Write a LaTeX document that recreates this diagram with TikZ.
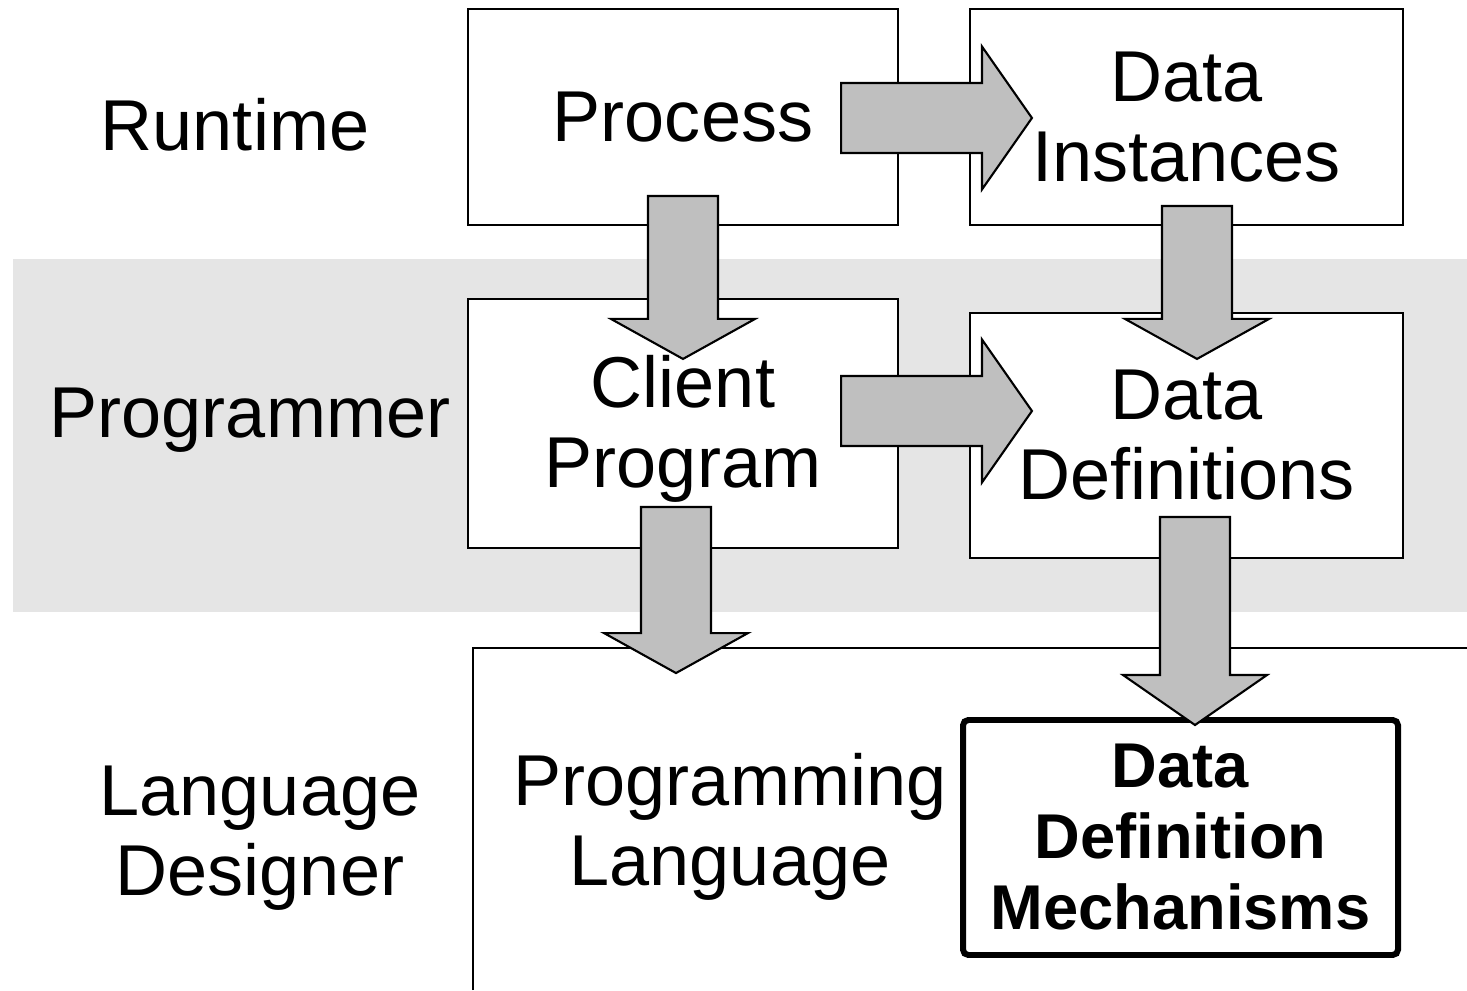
\documentclass[tikz,border=0pt]{standalone}
\usepackage{fontspec}
\setmainfont{Liberation Sans}
\usetikzlibrary{calc}
\definecolor{bandgray}{HTML}{E5E5E5}
\definecolor{arrowgray}{HTML}{BFBFBF}
\tikzset{
	box/.style={draw, line width=0.6pt, fill=white, inner sep=0pt, align=center, font=\fontsize{20.5}{22.8}\selectfont},
	lbl/.style={inner sep=0pt, align=center, font=\fontsize{20.5}{22.8}\selectfont},
	blk/.style={draw, line width=0.6pt, fill=arrowgray, line join=miter}
}
% block arrows: #1 tail point, #2 tip point, #3 head length
\newcommand{\blkdown}[3]{
	\draw[blk] let \p1=#1, \p2=#2 in (\x2-0.35cm,\y1) -- (\x2+0.35cm,\y1) -- (\x2+0.35cm,\y2+#3) -- (\x2+0.72cm,\y2+#3) -- (\x2,\y2) -- (\x2-0.72cm,\y2+#3) -- (\x2-0.35cm,\y2+#3) -- cycle;
}
\newcommand{\blkright}[3]{
	\draw[blk] let \p1=#1, \p2=#2 in (\x1,\y2-0.35cm) -- (\x1,\y2+0.35cm) -- (\x2-#3,\y2+0.35cm) -- (\x2-#3,\y2+0.715cm) -- (\x2,\y2) -- (\x2-#3,\y2-0.715cm) -- (\x2-#3,\y2-0.35cm) -- cycle;
}
\begin{document}
\begin{tikzpicture}
	\useasboundingbox (0, 0) rectangle (14.67, 9.9);
	\fill[bandgray] (0.13, 3.78) rectangle (14.67, 7.31);
	\node[lbl] at (2.35, 8.65) (runtime) {Runtime};
	\node[lbl] at (2.50, 5.70) (programmer) {Programmer};
	\node[lbl] at (2.60, 1.52) (designer) {Language\\Designer};
	\node[box, minimum width=4.30cm, minimum height=2.16cm] at (6.83, 8.73) (proc) {Process};
	\node[box, minimum width=4.33cm, minimum height=2.16cm] at (11.865, 8.73) (inst) {Data\\Instances};
	\node[box, minimum width=4.30cm, minimum height=2.49cm] at (6.83, 5.665) (client) {};
	\node[lbl] at (6.83, 5.61) (clienttxt) {Client\\Program};
	\node[box, minimum width=4.33cm, minimum height=2.45cm] at (11.865, 5.545) (defs) {Data\\Definitions};
	\draw[line width=0.6pt] (4.73, 0) -- (4.73, 3.42) -- (14.67, 3.42);
	\node[lbl] at (7.30, 1.63) (plang) {Programming\\Language};
	\node[box, line width=1.7pt, rounded corners=1.5pt, minimum width=4.35cm, minimum height=2.35cm, font=\fontsize{18}{20.2}\selectfont\bfseries] at (11.805, 1.525) (ddm) {Data\\Definition\\Mechanisms};
	\blkright{($(proc.east)+(-0.58,-0.01)$)}{($(inst.west)+(0.63,-0.01)$)}{0.50cm}
	\blkright{($(client.east)+(-0.58,0.125)$)}{($(defs.west)+(0.63,0.245)$)}{0.50cm}
	\blkdown{($(proc.south)+(0,0.30)$)}{($(client.north)+(0,-0.61)$)}{0.40cm}
	\blkdown{($(inst.south)+(0.105,0.20)$)}{($(defs.north)+(0.105,-0.47)$)}{0.40cm}
	\blkdown{($(client.south)+(-0.07,0.42)$)}{($(client.south)+(-0.07,-1.24)$)}{0.40cm}
	\blkdown{($(defs.south)+(0.085,0.42)$)}{($(ddm.north)+(0.145,-0.08)$)}{0.50cm}
\end{tikzpicture}
\end{document}
